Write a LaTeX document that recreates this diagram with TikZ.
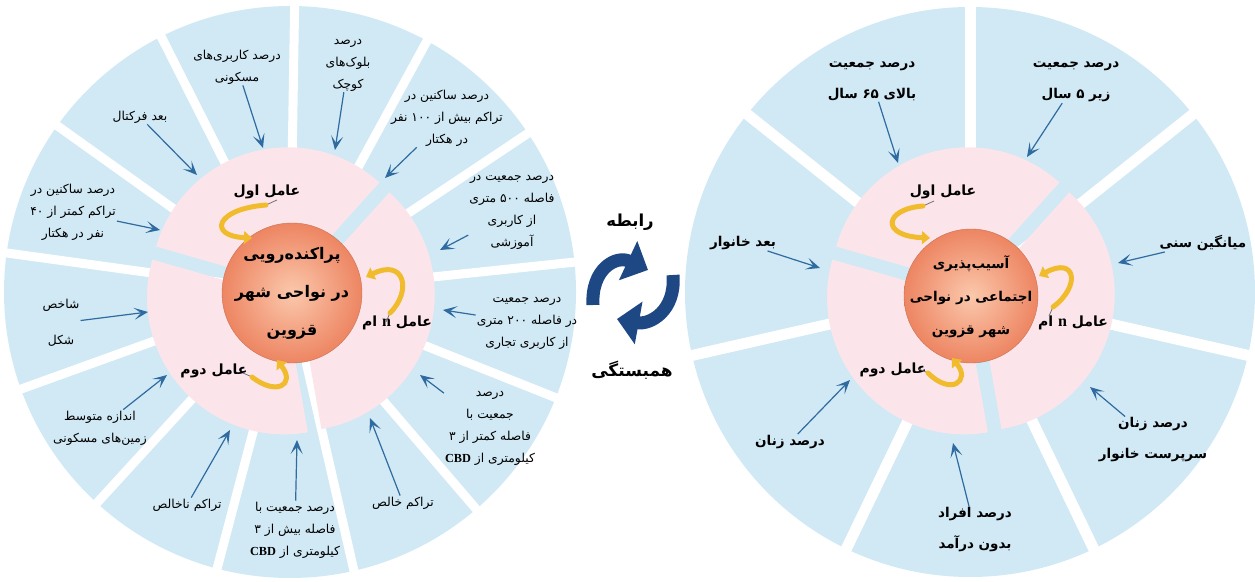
\documentclass[tikz,border=0pt]{standalone}
\usepackage{fontspec}
\setmainfont{DejaVu Sans}
\newfontfamily\fafont[Script=Arabic]{DejaVu Sans}
\newfontfamily\latfont{Liberation Serif}
\TeXXeTstate=1
\usetikzlibrary{arrows.meta,calc}
\definecolor{ringblue}{RGB}{208,233,244}
\definecolor{ringpink}{RGB}{252,229,234}
\definecolor{arrowblue}{RGB}{47,107,160}
\definecolor{hubin}{RGB}{251,200,172}
\definecolor{hubout}{RGB}{237,133,98}
\definecolor{goldarrow}{RGB}{240,188,45}
\definecolor{navyarrow}{RGB}{30,72,132}
\newcommand{\fa}[1]{\beginR #1\endR}
\newcommand{\la}[1]{\beginL{#1}\endL{}}
\newcommand{\pinkseg}[4]{\fill[ringpink] ($(#1)+({(#2+#3)/2}:#4)$) -- ++(#2:137) arc[start angle=#2,end angle=#3,radius=137pt] -- cycle;}
\begin{document}
\begin{tikzpicture}[x=1pt,y=1pt,
  lbl/.style={font=\fafont\fontsize{12.3}{22}\selectfont,align=center,inner sep=1pt},
  lblb/.style={font=\fafont\bfseries\fontsize{13.5}{31}\selectfont,align=center,inner sep=1pt},
  factorlbl/.style={font=\fafont\bfseries\fontsize{14}{16}\selectfont,inner sep=1pt},
  hub/.style={circle,minimum size=#1,inner sep=0pt,inner color=hubin,outer color=hubout,draw=hubout!85!black,line width=.4pt},
  hubtext/.style 2 args={font=\fafont\bfseries\fontsize{#1}{#2}\selectfont,align=center,inner sep=1pt},
  arr/.style={draw=arrowblue,line width=1.2pt,-{Stealth[length=14pt,width=12pt,inset=7pt]}},
  gapline/.style={white,line width=#1},
  turnarrow/.style={goldarrow,line width=5pt,line cap=round,-{Triangle[length=8pt,width=13pt]}},
  turntail/.style={black!55,line width=.8pt},
  linkarrow/.style={navyarrow,line width=13pt,-{Triangle[length=22pt,width=42pt]}}]
\useasboundingbox (0,0) rectangle (1255,581);
\coordinate (cL) at (290,289);
\coordinate (cR) at (970,289);
\fill[ringblue] (cL) circle (286pt);
\fill[ringblue] (cR) circle (285pt);
\foreach \k in {0,...,12} \draw[gapline=9pt] (cL) -- ++({6+\k*360/13}:287);
\foreach \k in {0,...,6} \draw[gapline=11pt] (cR) -- ++({90-\k*360/7}:286);
\pinkseg{cL}{48}{164}{8}
\pinkseg{cL}{164}{280}{8}
\pinkseg{cL}{-80}{48}{8}
\pinkseg{cR}{48}{164}{8}
\pinkseg{cR}{164}{280}{8}
\pinkseg{cR}{-80}{48}{8}
\node[hub=140pt] (hubL) at (292,288) {};
\node[hub=134pt] (hubR) at (971,285) {};
\node[hubtext={16}{38}] (hubLtxt) at (hubL) {\fa{پراکنده‌رویی}\\\fa{در نواحی شهر}\\\fa{قزوین}};
\node[hubtext={13.5}{33}] (hubRtxt) at ($(hubR)+(0,-1)$) {\fa{آسیب‌پذیری}\\\fa{اجتماعی در نواحی}\\\fa{شهر قزوین}};

\node[factorlbl] (fa1) at (267,389) {\fa{عامل اول}};
\node[factorlbl] (fan) at (397,258) {\fa{عامل \la{\latfont\bfseries\fontsize{16}{16}\selectfont n} ام}};
\node[factorlbl] (fa2) at (214,210) {\fa{عامل دوم}};
\node[factorlbl] (fb1) at (943,389) {\fa{عامل اول}};
\node[factorlbl] (fbn) at (1073,258) {\fa{عامل \la{\latfont\bfseries\fontsize{16}{16}\selectfont n} ام}};
\node[factorlbl] (fb2) at (893,211) {\fa{عامل دوم}};

\draw[turntail] (266,376) -- (277,381);
\draw[turnarrow] (266,376) .. controls (215,372) and (208,345) .. (252,343);
\draw[turntail] (390,268) -- (386,259);
\draw[turnarrow] (390,268) .. controls (412,290) and (405,323) .. (366,304);
\draw[turntail] (252,204) -- (243,208);
\draw[turnarrow] (252,204) .. controls (276,185) and (296,196) .. (277,221);
\draw[turntail] (923,375) -- (934,380);
\draw[turnarrow] (923,375) .. controls (884,372) and (880,345) .. (930,343);
\draw[turntail] (1053,274) -- (1049,265);
\draw[turnarrow] (1053,274) .. controls (1081,295) and (1076,325) .. (1039,305);
\draw[turntail] (928,208) -- (919,212);
\draw[turnarrow] (928,208) .. controls (951,185) and (971,200) .. (952,223);

\node[lbl] (l1) at (140,464) {\fa{بعد فرکتال}};
\node[lbl] (l2) at (237,514) {\fa{درصد کاربری‌های}\\\fa{مسکونی}};
\node[lbl] (l3) at (348,516) {\fa{درصد}\\\fa{بلوک‌های}\\\fa{کوچک}};
\node[lbl] (l4) at (447,463) {\fa{درصد ساکنین در}\\\fa{تراکم بیش از ۱۰۰ نفر}\\\fa{در هکتار}};
\node[lbl] (l5) at (512,369) {\fa{درصد جمعیت در}\\\fa{فاصله ۵۰۰ متری}\\\fa{از کاربری}\\\fa{آموزشی}};
\node[lbl] (l6) at (527,258) {\fa{درصد جمعیت}\\\fa{در فاصله ۲۰۰ متری}\\\fa{از کاربری تجاری}};
\node[lbl] (l7) at (490,153) {\fa{درصد}\\\fa{جمعیت با}\\\fa{فاصله کمتر از ۳}\\\fa{کیلومتری از \la{\latfont\bfseries CBD}}};
\node[lbl] (l8) at (403,78) {\fa{تراکم خالص}};
\node[lbl] (l9) at (295,51) {\fa{درصد جمعیت با}\\\fa{فاصله بیش از ۳}\\\fa{کیلومتری از \la{\latfont\bfseries CBD}}};
\node[lbl] (l10) at (187,76) {\fa{تراکم ناخالص}};
\node[lbl] (l11) at (100,153) {\fa{اندازه متوسط}\\\fa{زمین‌های مسکونی}};
\node[lbl] (l12) at (61,258) {\fa{شاخص}\\[14pt]\fa{شکل}};
\node[lbl] (l13) at (73,369) {\fa{درصد ساکنین در}\\\fa{تراکم کمتر از ۴۰}\\\fa{نفر در هکتار}};
\coordinate (t1) at (197,406);
\coordinate (t2) at (263,433);
\coordinate (t3) at (335,431);
\coordinate (t4) at (385,403);
\coordinate (t5) at (440,331);
\coordinate (t6) at (443,271);
\coordinate (t7) at (420,206);
\coordinate (t8) at (370,163);
\coordinate (t9) at (297,141);
\coordinate (t10) at (230,151);
\coordinate (t11) at (167,206);
\coordinate (t12) at (148,269);
\coordinate (t13) at (160,351);
\foreach \i in {1,...,13} \draw[arr] (l\i) -- (t\i);

\node[lblb] (r1) at (872,500) {\fa{درصد جمعیت}\\\fa{بالای ۶۵ سال}};
\node[lblb] (r2) at (1076,499) {\fa{درصد جمعیت}\\\fa{زیر ۵ سال}};
\node[lblb] (r3) at (1203,338) {\fa{میانگین سنی}};
\node[lblb] (r4) at (1153,141) {\fa{درصد زنان}\\\fa{سرپرست خانوار}};
\node[lblb] (r5) at (975,51) {\fa{درصد افراد}\\\fa{بدون درآمد}};
\node[lblb] (r6) at (790,139) {\fa{درصد زنان}};
\node[lblb] (r7) at (743,338) {\fa{بعد خانوار}};
\coordinate (s1) at (898,418);
\coordinate (s2) at (1027,424);
\coordinate (s3) at (1118,318);
\coordinate (s4) at (1090,194);
\coordinate (s5) at (953,138);
\coordinate (s6) at (850,201);
\coordinate (s7) at (820,313);
\foreach \i in {1,...,7} \draw[arr] (r\i) -- (s\i);

\node[font=\fafont\bfseries\fontsize{16.5}{20}\selectfont] (rel) at (630,359) {\fa{رابطه}};
\node[font=\fafont\bfseries\fontsize{17}{20}\selectfont] (cor) at (632,211) {\fa{همبستگی}};
\draw[linkarrow] (593,276) .. controls (591,312) and (616,326) .. (648,311);
\draw[linkarrow] (673,306) .. controls (676,270) and (650,256) .. (617,262);
\end{tikzpicture}
\end{document}
